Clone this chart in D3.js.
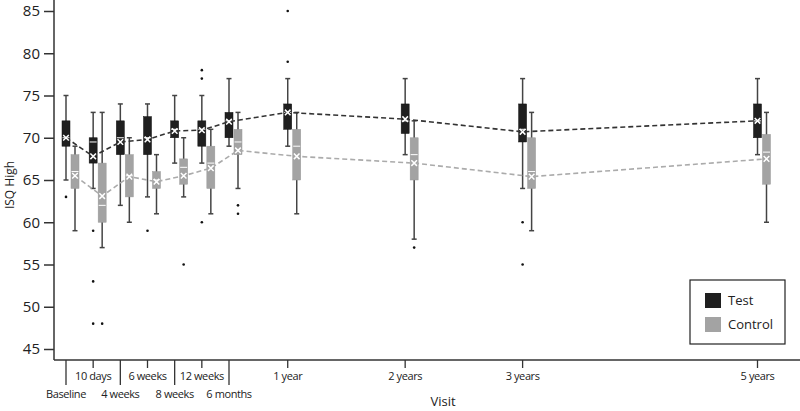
<!DOCTYPE html>
<html><head><meta charset="utf-8">
<script src="https://cdn.jsdelivr.net/npm/d3@7"></script>
<style>body{margin:0;background:#fff}svg{display:block}text{font-family:"Open Sans",sans-serif;fill:#222}</style>
</head><body><svg id="c" width="800" height="411"></svg>
<script>
const visits = ["Baseline","10 days","4 weeks","6 weeks","8 weeks","12 weeks","6 months","1 year","2 years","3 years","5 years"];
const visitSlot = [0,1,2,3,4,5,6,12,24,36,60];
const labelLower = [1,0,1,0,1,0,1,0,0,0,0];

const testMin  = [65,64,62,63,67,67,69,69,68,64,68];
const testQ1   = [69,67,68,68,70,69,70,71,70.5,69.5,70];
const testMed  = [70,69.5,70,70,71,71,72,73,72,71,72];
const testQ3   = [72,70,72,72.5,72,72,73,74,74,74,74];
const testMax  = [75,73,74,74,75,75,77,77,77,77,77];
const testMean = [70,67.8,69.5,69.8,70.8,70.9,71.9,73,72.2,70.7,72];
const testOut  = [[63],[59,53,48],[],[59],[],[78,77,60],[],[85,79],[],[60,55],[]];

const ctrlMin  = [59,57,60,61,63,61,64,61,58,59,60];
const ctrlQ1   = [64,60,63,64,64.5,64,68,65,65,64,64.5];
const ctrlMed  = [66,62,65.5,65,66.5,67,69.5,69,68,66,68.3];
const ctrlQ3   = [68,67,68,66,67.5,69,71,71,70,70,70.4];
const ctrlMax  = [69,73,70,68,70,71,73,73,72,73,73];
const ctrlMean = [65.5,63.1,65.4,64.8,65.5,66.4,68.5,67.8,67,65.4,67.5];
const ctrlOut  = [[],[48],[],[],[55],[],[62,61],[],[57],[],[]];

const yTicks = [45,50,55,60,65,70,75,80,85];
const seriesNames = ["Test","Control"];
const seriesFill = ["#1f1f1f","#a3a3a3"];
const lineColor = ["#333","#ababab"];

const svg = d3.select("#c");
const y = d3.scaleLinear().domain([45,85]).range([349,11]);
const x = d3.scaleLinear().domain([0,6,60]).range([66,229,757.5]);
const axisX0 = 54, axisY0 = 360;

svg.append("line").attr("x1",axisX0).attr("x2",axisX0).attr("y1",0).attr("y2",axisY0).attr("stroke","#333").attr("stroke-width",1.5);
svg.append("line").attr("x1",axisX0).attr("x2",800).attr("y1",axisY0).attr("y2",axisY0).attr("stroke","#333").attr("stroke-width",1.5);

const yAxis = d3.axisLeft(y).tickValues(yTicks).tickSize(10).tickPadding(4);
const gy = svg.append("g").attr("transform",`translate(${axisX0},0)`).call(yAxis);
gy.select(".domain").remove();
gy.selectAll(".tick line").attr("stroke","#333").attr("stroke-width",1.5);
gy.selectAll(".tick text").style("font-size","15px").attr("fill","#222");

visits.forEach((v,i)=>{
  const xx = x(visitSlot[i]);
  const len = labelLower[i] ? 25 : 8;
  svg.append("line").attr("x1",xx).attr("x2",xx).attr("y1",axisY0).attr("y2",axisY0+len).attr("stroke","#333").attr("stroke-width",1.3);
  svg.append("text").attr("x",xx).attr("y",labelLower[i]?398:380).attr("text-anchor","middle")
    .style("font-size","11px").style("letter-spacing","-0.4px").text(v);
});

svg.append("text").attr("x",443).attr("y",406).attr("text-anchor","middle").style("font-size","13px").text("Visit");
svg.append("text").attr("transform","translate(14,185) rotate(-90)").attr("text-anchor","middle").style("font-size","12px").text("ISQ High");

const series = [
  {min:testMin,q1:testQ1,med:testMed,q3:testQ3,max:testMax,mean:testMean,out:testOut,off:0},
  {min:ctrlMin,q1:ctrlQ1,med:ctrlMed,q3:ctrlQ3,max:ctrlMax,mean:ctrlMean,out:ctrlOut,off:9}
];
const bw = 8;

const gBoxes = svg.append("g");
const gLines = svg.append("g");
const gMarks = svg.append("g");

series.forEach((s,si)=>{
  visits.forEach((v,i)=>{
    const cx = x(visitSlot[i]) + s.off;
    gBoxes.append("line").attr("x1",cx).attr("x2",cx).attr("y1",y(s.max[i])).attr("y2",y(s.min[i])).attr("stroke","#444").attr("stroke-width",1.5);
    [s.max[i],s.min[i]].forEach(val=>gBoxes.append("line").attr("x1",cx-2.5).attr("x2",cx+2.5).attr("y1",y(val)).attr("y2",y(val)).attr("stroke","#444").attr("stroke-width",1.5));
    gBoxes.append("rect").attr("x",cx-bw/2).attr("width",bw).attr("y",y(s.q3[i])).attr("height",y(s.q1[i])-y(s.q3[i]))
      .attr("fill",seriesFill[si]).attr("stroke",si?"#999":"#111").attr("stroke-width",0.5);
    gBoxes.append("line").attr("x1",cx-bw/2+0.5).attr("x2",cx+bw/2-0.5).attr("y1",y(s.med[i])).attr("y2",y(s.med[i])).attr("stroke","#fff").attr("stroke-width",1);
    s.out[i].forEach(o=>gBoxes.append("circle").attr("cx",cx).attr("cy",y(o)).attr("r",1.3).attr("fill","#111"));
  });
  const line = d3.line().x((d,i)=>x(visitSlot[i])+s.off).y(d=>y(d));
  gLines.append("path").attr("d",line(s.mean)).attr("fill","none").attr("stroke",lineColor[si])
    .attr("stroke-width",1.6).attr("stroke-dasharray","5,3");
  s.mean.forEach((m,i)=>{
    const cx = x(visitSlot[i]) + s.off, cy = y(m), r = 2.8;
    gMarks.append("path").attr("d",`M${cx-r},${cy-r}L${cx+r},${cy+r}M${cx-r},${cy+r}L${cx+r},${cy-r}`)
      .attr("stroke","#fff").attr("stroke-width",1.5);
  });
});

// legend
const lg = svg.append("g");
lg.append("rect").attr("x",690).attr("y",280).attr("width",95).attr("height",64).attr("fill","#fff").attr("stroke","#222").attr("stroke-width",1.2);
seriesNames.forEach((n,i)=>{
  lg.append("rect").attr("x",705).attr("y",293+i*24).attr("width",16).attr("height",15).attr("fill",seriesFill[i]);
  lg.append("text").attr("x",728).attr("y",305+i*24).style("font-size","13px").text(n);
});
</script></body></html>
